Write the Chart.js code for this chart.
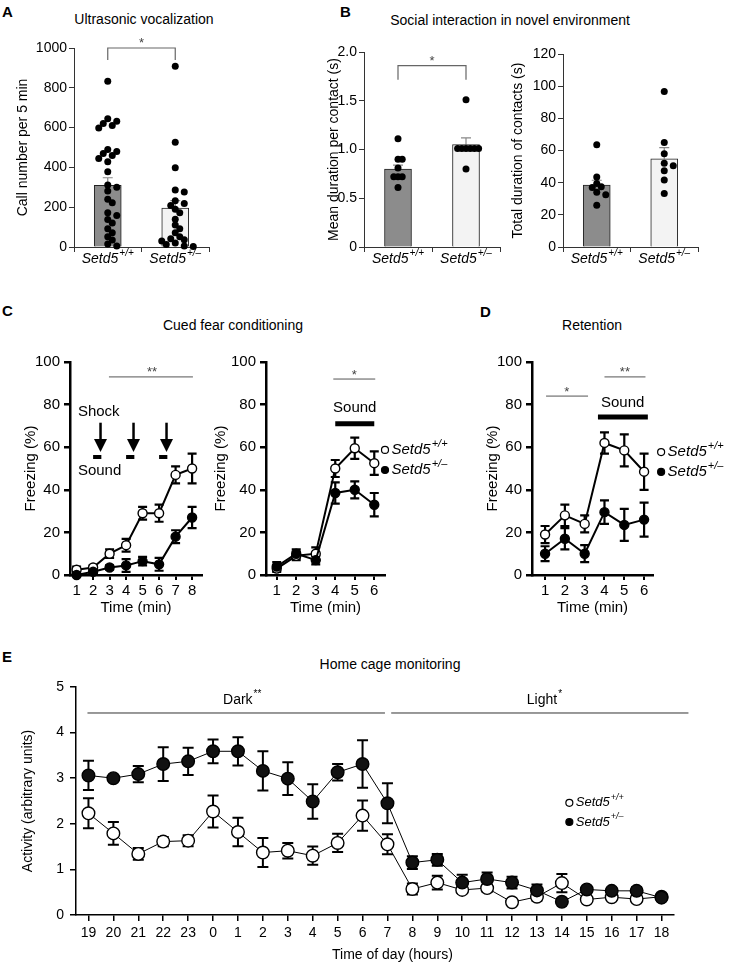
<!DOCTYPE html>
<html>
<head>
<meta charset="utf-8">
<title>Setd5 behaviour</title>
<script src="https://cdn.jsdelivr.net/npm/chart.js@4.4.1/dist/chart.umd.min.js"></script>
<style>
  body { margin: 0; background: #fff; font-family: "Liberation Sans", Arial, sans-serif; color: #000; }
  #fig { position: relative; width: 739px; height: 966px; overflow: hidden; background: #fff; }
  .panel { position: absolute; }
  .letter { position: absolute; font-weight: bold; font-size: 15px; line-height: 16px; }
  .title { position: absolute; font-size: 14px; line-height: 16px; white-space: nowrap; transform: translate(-50%, -50%); }
</style>
</head>
<body>
<div id="fig">
  <div class="letter" style="left:2px;top:4px">A</div>
  <div class="title" style="left:144px;top:19px">Ultrasonic vocalization</div>
  <div class="letter" style="left:340px;top:4px">B</div>
  <div class="title" style="left:510px;top:20px">Social interaction in novel environment</div>
  <div class="letter" style="left:2px;top:303px">C</div>
  <div class="title" style="left:233px;top:325px">Cued fear conditioning</div>
  <div class="letter" style="left:480px;top:304px">D</div>
  <div class="title" style="left:592px;top:325px">Retention</div>
  <div class="letter" style="left:2px;top:649px">E</div>
  <div class="title" style="left:390px;top:664px">Home cage monitoring</div>

  <div class="panel" style="left:0;top:28px;width:232px;height:252px"><canvas id="chartA"></canvas></div>
  <div class="panel" style="left:300px;top:28px;width:215px;height:252px"><canvas id="chartB1"></canvas></div>
  <div class="panel" style="left:500px;top:28px;width:220px;height:252px"><canvas id="chartB2"></canvas></div>
  <div class="panel" style="left:0;top:340px;width:215px;height:285px"><canvas id="chartC1"></canvas></div>
  <div class="panel" style="left:200px;top:340px;width:265px;height:285px"><canvas id="chartC2"></canvas></div>
  <div class="panel" style="left:460px;top:340px;width:279px;height:285px"><canvas id="chartD"></canvas></div>
  <div class="panel" style="left:0;top:640px;width:739px;height:326px"><canvas id="chartE"></canvas></div>
</div>

<script>
// ---- data ----
const genotypes = ['+/+', '+/–'];

// A: ultrasonic vocalization (calls per 5 min)
const usvMean = [310, 195];
const usvSem = [38, 38];
const usvWT = [833, 645, 632, 620, 610, 598, 490, 480, 470, 460, 445, 428, 378, 312, 300, 282, 240, 222, 172, 158, 138, 120, 92, 72, 52, 35, 15, 5];
const usvHet = [908, 527, 398, 286, 276, 232, 219, 208, 190, 172, 140, 110, 92, 72, 52, 42, 36, 30, 20, 13, 5, 3];

// B: social interaction
const contactMean = [0.80, 1.05];
const contactSem = [0.04, 0.07];
const contactWT = [1.11, 0.9, 0.9, 0.81, 0.72, 0.72, 0.72, 0.61];
const contactHet = [1.51, 1.01, 1.01, 1.01, 1.01, 1.01, 1.01, 0.8];
const totalMean = [38.5, 54.8];
const totalSem = [3, 7];
const totalWT = [63.5, 43.5, 39.5, 37.5, 37, 34, 32.5, 26];
const totalHet = [96.7, 65, 58, 52, 50.5, 47.4, 41.6, 33.3];

// C: cued fear conditioning, freezing (%)
const minutesTrain = [1, 2, 3, 4, 5, 6, 7, 8];
const trainWT = [2.5, 3.5, 10, 14, 29, 29, 47, 50];
const trainWTSem = [1.5, 1, 2, 3, 3, 4, 4, 7];
const trainHet = [0, 1.5, 3.5, 4.5, 6.5, 5, 18, 27];
const trainHetSem = [0.5, 1, 1, 3, 2, 3, 3, 5];

const minutesTest = [1, 2, 3, 4, 5, 6];
const testWT = [3, 9, 10, 50, 59.5, 52.5];
const testWTSem = [1.5, 2, 3, 4, 5, 5.5];
const testHet = [4, 10, 7, 38.5, 40, 33];
const testHetSem = [2, 2, 2, 5, 4, 5.5];

// D: retention
const retWT = [19, 28, 24, 62, 58.5, 48.5];
const retWTSem = [4, 5, 4, 5, 7.5, 8.5];
const retHet = [10, 17, 10, 29.5, 23.5, 26];
const retHetSem = [3.5, 5, 4, 5.5, 7.5, 8];

// E: home cage activity
const hours = ['19', '20', '21', '22', '23', '0', '1', '2', '3', '4', '5', '6', '7', '8', '9', '10', '11', '12', '13', '14', '15', '16', '17', '18'];
const actWT = [2.23, 1.79, 1.34, 1.61, 1.63, 2.27, 1.82, 1.37, 1.41, 1.30, 1.58, 2.18, 1.55, 0.57, 0.71, 0.55, 0.59, 0.28, 0.40, 0.70, 0.34, 0.39, 0.35, 0.40];
const actWTSem = [0.33, 0.25, 0.13, 0.1, 0.12, 0.35, 0.31, 0.32, 0.17, 0.2, 0.2, 0.33, 0.22, 0.12, 0.15, 0.06, 0.08, 0.03, 0.08, 0.2, 0.05, 0.05, 0.05, 0.06];
const actHet = [3.06, 3.0, 3.09, 3.31, 3.37, 3.59, 3.59, 3.16, 2.99, 2.49, 3.13, 3.31, 2.45, 1.15, 1.21, 0.71, 0.79, 0.71, 0.54, 0.29, 0.56, 0.53, 0.53, 0.38];
const actHetSem = [0.32, 0.05, 0.18, 0.37, 0.3, 0.26, 0.31, 0.43, 0.36, 0.38, 0.18, 0.52, 0.44, 0.14, 0.13, 0.17, 0.14, 0.13, 0.13, 0.04, 0.06, 0.06, 0.08, 0.06];

// ---- drawing helpers ----
const FONT = '"Liberation Sans", Arial, sans-serif';
Chart.defaults.font.family = FONT;
Chart.defaults.color = '#000';

// annotations per canvas id, in data coordinates
const extras = {};

function drawText(ctx, x, y, it) {
    const size = it.size || 14;
    const style = it.italic ? 'italic ' : '';
    const main = style + size + 'px ' + FONT;
    const supFont = style + Math.round(size * 0.72) + 'px ' + FONT;
    ctx.font = main;
    const w1 = ctx.measureText(it.text).width;
    let w2 = 0;
    if (it.sup) { ctx.font = supFont; w2 = ctx.measureText(it.sup).width + 1; }
    const left = it.align === 'left' ? x : x - (w1 + w2) / 2;
    ctx.fillStyle = it.color || '#000';
    ctx.textAlign = 'left';
    ctx.textBaseline = 'middle';
    ctx.font = main;
    ctx.fillText(it.text, left, y);
    if (it.sup) {
        ctx.font = supFont;
        ctx.fillText(it.sup, left + w1 + 1, y - size * 0.4);
    }
}

function yOf(v) { return typeof v === 'object' ? v.y : v; }

const figPlugin = {
    id: 'fig',
    beforeDatasetsDraw(chart) {
        const ctx = chart.ctx;
        chart.data.datasets.forEach((ds, i) => {
            if (!ds.errors) return;
            const meta = chart.getDatasetMeta(i);
            const ys = chart.scales[meta.yAxisID];
            ctx.save();
            ctx.strokeStyle = ds.errColor || '#000';
            ctx.lineWidth = ds.errWidth || 2;
            meta.data.forEach((el, j) => {
                const v = yOf(ds.data[j]), e = ds.errors[j];
                const top = ys.getPixelForValue(v + e);
                const bot = ys.getPixelForValue(ds.errUpOnly ? v : v - e);
                const w = ds.capWidth / 2;
                ctx.beginPath();
                ctx.moveTo(el.x, top); ctx.lineTo(el.x, bot);
                ctx.moveTo(el.x - w, top); ctx.lineTo(el.x + w, top);
                if (!ds.errUpOnly) { ctx.moveTo(el.x - w, bot); ctx.lineTo(el.x + w, bot); }
                ctx.stroke();
            });
            ctx.restore();
        });
    },
    afterDraw(chart) {
        const cfg = extras[chart.canvas.id];
        if (!cfg) return;
        const ctx = chart.ctx;
        const X = v => chart.scales.x.getPixelForValue(v);
        const Y = v => chart.scales.y.getPixelForValue(v);
        ctx.save();
        (cfg.items || []).forEach(it => {
            if (it.t === 'line') {
                ctx.strokeStyle = it.color || '#000';
                ctx.lineWidth = it.w || 1;
                ctx.beginPath();
                ctx.moveTo(X(it.x0), Y(it.y));
                ctx.lineTo(X(it.x1), Y(it.y));
                ctx.stroke();
            } else if (it.t === 'bracket') {
                const y = Y(it.y);
                ctx.strokeStyle = it.color || '#000';
                ctx.lineWidth = it.w || 1;
                ctx.beginPath();
                ctx.moveTo(X(it.x0), y + it.drop);
                ctx.lineTo(X(it.x0), y);
                ctx.lineTo(X(it.x1), y);
                ctx.lineTo(X(it.x1), y + it.drop);
                ctx.stroke();
            } else if (it.t === 'arrow') {
                const x = X(it.x), y0 = Y(it.y0), y1 = Y(it.y1);
                ctx.strokeStyle = '#000';
                ctx.fillStyle = '#000';
                ctx.lineWidth = 2.5;
                ctx.beginPath();
                ctx.moveTo(x, y0); ctx.lineTo(x, y1 - 10);
                ctx.stroke();
                ctx.beginPath();
                ctx.moveTo(x - 6.5, y1 - 13); ctx.lineTo(x + 6.5, y1 - 13); ctx.lineTo(x, y1);
                ctx.closePath();
                ctx.fill();
            } else if (it.t === 'text') {
                drawText(ctx, X(it.x) + (it.dx || 0), Y(it.y) + (it.dy || 0), it);
            } else if (it.t === 'geno') {
                const x = X(it.x), y = Y(it.y), r = it.r || 3.5;
                ctx.beginPath();
                ctx.arc(x, y, r, 0, Math.PI * 2);
                ctx.fillStyle = it.fill;
                ctx.fill();
                ctx.strokeStyle = '#000';
                ctx.lineWidth = 1.2;
                ctx.stroke();
                drawText(ctx, x + r + 3, y, { text: 'Setd5', sup: it.sup, italic: true, size: it.size || 15, align: 'left' });
            }
        });
        if (cfg.catLabels) {
            const y = chart.chartArea.bottom + cfg.catLabels.dy;
            genotypes.forEach((g, i) => {
                drawText(ctx, X(i), y, { text: 'Setd5', sup: g, italic: true, size: cfg.catLabels.size });
            });
        }
        ctx.restore();
    }
};
Chart.register(figPlugin);

// simple beeswarm offsets (x units) so dots do not sit on top of each other
function swarm(values, unitPx, catPx, step, minDist) {
    const placed = [];
    return values.map(v => {
        const y = v * unitPx;
        for (let k = 0; k < 60; k++) {
            const dx = Math.ceil(k / 2) * (k % 2 ? 1 : -1) * step;
            if (placed.every(p => Math.hypot(p.x - dx, p.y - y) >= minDist)) {
                placed.push({ x: dx, y: y });
                return dx / catPx;
            }
        }
        return 0;
    });
}

function dots(values, cat, unitPx, catPx, step, minDist) {
    const off = swarm(values, unitPx, catPx, step, minDist);
    return values.map((v, i) => ({ x: cat + off[i], y: v }));
}

function valueAxis(o) {
    return {
        type: 'linear', min: o.min, max: o.max,
        afterFit: s => { s.width = o.width; },
        border: { display: true, color: o.color || '#000', width: o.lw },
        grid: { drawOnChartArea: false, drawTicks: true, tickLength: o.tick, color: o.color || '#000', lineWidth: o.lw },
        ticks: { stepSize: o.step, font: { size: o.size }, color: '#000', padding: o.pad, callback: o.fmt },
        title: { display: true, text: o.title, font: { size: o.size }, color: '#000', padding: 0 }
    };
}

// genotype axis: linear from -0.5 to 1.5, tick marks between the two groups
function genoAxis(h) {
    return {
        type: 'linear', min: -0.5, max: 1.5, offset: false,
        afterFit: s => { s.height = h; },
        afterBuildTicks: s => { s.ticks = [-0.5, 0.5, 1.5].map(v => ({ value: v })); },
        border: { display: true, color: '#333', width: 1 },
        grid: { offset: false, drawOnChartArea: false, drawTicks: true, tickLength: 5, color: '#333', lineWidth: 1 },
        ticks: { callback: () => '' }
    };
}

function minuteAxis(min, max, ticksAt, h) {
    return {
        type: 'linear', min: min, max: max,
        afterFit: s => { s.height = h; },
        afterBuildTicks: s => { s.ticks = ticksAt.map(v => ({ value: v })); },
        border: { display: true, color: '#000', width: 2.5 },
        grid: { drawOnChartArea: false, drawTicks: true, tickLength: 5, color: '#000', lineWidth: 2 },
        ticks: { font: { size: 15 }, padding: 2, color: '#000', maxRotation: 0, autoSkip: false },
        title: { display: true, text: 'Time (min)', font: { size: 15 }, color: '#000', padding: 0 }
    };
}

function freezeAxis(width) {
    return valueAxis({ min: 0, max: 100, step: 20, width: width, lw: 2.5, tick: 6, size: 15, pad: 4, title: 'Freezing (%)' });
}

function baseOptions(padding, scales) {
    return {
        responsive: true, maintainAspectRatio: false, animation: false,
        layout: { padding: padding },
        plugins: { legend: { display: false }, tooltip: { enabled: false } },
        scales: scales
    };
}

function barChart(id, mean, sem, wt, het, swarmArgs, padding, yOpts) {
    const pts = dots(wt, 0, ...swarmArgs).concat(dots(het, 1, ...swarmArgs));
    return new Chart(document.getElementById(id), {
        type: 'scatter',
        data: {
            datasets: [
                { type: 'scatter', data: pts, pointRadius: 3.5, pointBackgroundColor: '#000', pointBorderWidth: 0, order: 0, clip: false },
                { type: 'bar', data: mean.map((v, i) => ({ x: i, y: v })), errors: sem, errUpOnly: true,
                  errColor: '#888', errWidth: 1.2, capWidth: 10, grouped: false,
                  backgroundColor: ['#8c8c8c', '#f3f3f3'], borderColor: '#222', borderWidth: 1, barThickness: 27, order: 1 }
            ]
        },
        options: baseOptions(padding, {
            x: genoAxis(30),
            y: valueAxis(yOpts)
        })
    });
}

function lineSet(values, errs, fill, order, r, capW, lw) {
    return {
        data: values, errors: errs, capWidth: capW, errWidth: lw, errColor: '#000',
        borderColor: '#000', borderWidth: lw === 2.2 ? 2 : 1, pointRadius: r,
        pointBackgroundColor: fill, pointBorderColor: '#000', pointBorderWidth: 1.4,
        order: order, clip: false, tension: 0
    };
}

// ---- A ----
extras.chartA = {
    catLabels: { dy: 12, size: 14 },
    items: [
        { t: 'bracket', x0: 0, x1: 1, y: 1000, drop: 12, color: '#666', w: 1.2 },
        { t: 'text', x: 0.5, y: 1000, dy: -5, text: '*', size: 13, color: '#444' }
    ]
};
barChart('chartA', usvMean, usvSem, usvWT, usvHet, [0.199, 67.5, 4.5, 5.5],
    { left: 15, right: 23, top: 20, bottom: 3 },
    { min: 0, max: 1000, step: 200, width: 59, lw: 1, tick: 5, size: 14, pad: 2, color: '#333', title: 'Call number per 5 min' });

// ---- B ----
extras.chartB1 = {
    catLabels: { dy: 12, size: 14 },
    items: [
        { t: 'bracket', x0: 0, x1: 1, y: 1.86, drop: 14, color: '#666', w: 1.2 },
        { t: 'text', x: 0.5, y: 1.86, dy: -4, text: '*', size: 13, color: '#444' }
    ]
};
barChart('chartB1', contactMean, contactSem, contactWT, contactHet, [97.5, 68, 4.2, 4.2],
    { left: 26, right: 15, top: 24, bottom: 3 },
    { min: 0, max: 2, step: 0.5, width: 38, lw: 1, tick: 5, size: 14, pad: 2, color: '#333',
      title: 'Mean duration per contact (s)', fmt: v => v === 0 ? '0' : v.toFixed(1) });

extras.chartB2 = { catLabels: { dy: 12, size: 14 }, items: [] };
barChart('chartB2', totalMean, totalSem, totalWT, totalHet, [1.61, 67.5, 4.5, 5.5],
    { left: 10, right: 22, top: 26, bottom: 3 },
    { min: 0, max: 120, step: 20, width: 53, lw: 1, tick: 5, size: 14, pad: 2, color: '#333', title: 'Total duration of contacts (s)' });

// ---- C ----
extras.chartC1 = {
    items: [
        { t: 'line', x0: 2.96, x1: 8.05, y: 93, w: 1, color: '#555' },
        { t: 'text', x: 5.57, y: 93, dy: -4, text: '**', size: 13, color: '#444' },
        { t: 'text', x: 1.08, y: 76.5, text: 'Shock', size: 15, align: 'left' },
        { t: 'arrow', x: 2.45, y0: 71.5, y1: 57.8 },
        { t: 'arrow', x: 4.45, y0: 71.5, y1: 57.8 },
        { t: 'arrow', x: 6.45, y0: 71.5, y1: 57.8 },
        { t: 'line', x0: 2.0, x1: 2.5, y: 55.4, w: 4 },
        { t: 'line', x0: 4.0, x1: 4.5, y: 55.4, w: 4 },
        { t: 'line', x0: 6.0, x1: 6.5, y: 55.4, w: 4 },
        { t: 'text', x: 1.08, y: 48.8, text: 'Sound', size: 15, align: 'left' }
    ]
};
new Chart(document.getElementById('chartC1'), {
    type: 'line',
    data: {
        labels: minutesTrain,
        datasets: [
            lineSet(trainHet, trainHetSem, '#000', 0, 4.5, 9, 2.2),
            lineSet(trainWT, trainWTSem, '#fff', 1, 4.5, 9, 2.2)
        ]
    },
    options: baseOptions({ left: 22, right: 13, top: 22, bottom: 8 }, {
        x: minuteAxis(0.6, 8.6, minutesTrain, 42),
        y: freezeAxis(48)
    })
});

extras.chartC2 = {
    items: [
        { t: 'line', x0: 3.9, x1: 6.05, y: 92, w: 1, color: '#555' },
        { t: 'text', x: 4.97, y: 92, dy: -4, text: '*', size: 13, color: '#444' },
        { t: 'line', x0: 4, x1: 6, y: 71, w: 5 },
        { t: 'text', x: 5, y: 78.4, text: 'Sound', size: 15 },
        { t: 'geno', x: 6.55, y: 58.7, sup: '+/+', fill: '#fff' },
        { t: 'geno', x: 6.55, y: 49.3, sup: '+/–', fill: '#000' }
    ]
};
new Chart(document.getElementById('chartC2'), {
    type: 'line',
    data: {
        labels: minutesTest,
        datasets: [
            lineSet(testHet, testHetSem, '#000', 0, 4.5, 9, 2.2),
            lineSet(testWT, testWTSem, '#fff', 1, 4.5, 9, 2.2)
        ]
    },
    options: baseOptions({ left: 12, right: 80, top: 22, bottom: 8 }, {
        x: minuteAxis(0.45, 6.55, minutesTest, 42),
        y: freezeAxis(54)
    })
});

// ---- D ----
extras.chartD = {
    items: [
        { t: 'line', x0: 1.05, x1: 3.17, y: 84, w: 1, color: '#555' },
        { t: 'text', x: 2.1, y: 84, dy: -4, text: '*', size: 13, color: '#444' },
        { t: 'line', x0: 4.0, x1: 6.07, y: 93, w: 1, color: '#555' },
        { t: 'text', x: 5.03, y: 93, dy: -4, text: '**', size: 13, color: '#444' },
        { t: 'line', x0: 3.67, x1: 6.19, y: 74.2, w: 5 },
        { t: 'text', x: 4.92, y: 80.8, text: 'Sound', size: 15 },
        { t: 'geno', x: 6.86, y: 57.7, sup: '+/+', fill: '#fff' },
        { t: 'geno', x: 6.86, y: 48.4, sup: '+/–', fill: '#000' }
    ]
};
new Chart(document.getElementById('chartD'), {
    type: 'line',
    data: {
        labels: minutesTest,
        datasets: [
            lineSet(retHet, retHetSem, '#000', 0, 4.5, 9, 2.2),
            lineSet(retWT, retWTSem, '#fff', 1, 4.5, 9, 2.2)
        ]
    },
    options: baseOptions({ left: 24, right: 86, top: 22, bottom: 8 }, {
        x: minuteAxis(0.34, 6.45, minutesTest, 42),
        y: freezeAxis(48)
    })
});

// ---- E ----
extras.chartE = {
    items: [
        { t: 'line', x0: -0.04, x1: 11.9, y: 4.43, w: 1, color: '#333' },
        { t: 'text', x: 6.17, y: 4.71, text: 'Dark', sup: '**', size: 14 },
        { t: 'line', x0: 12.15, x1: 24.08, y: 4.43, w: 1, color: '#333' },
        { t: 'text', x: 18.3, y: 4.71, text: 'Light', sup: '*', size: 14 },
        { t: 'geno', x: 19.3, y: 2.46, sup: '+/+', fill: '#fff', size: 13 },
        { t: 'geno', x: 19.3, y: 2.04, sup: '+/–', fill: '#000', size: 13 },
        { t: 'text', x: 12.2, y: -0.88, text: 'Time of day (hours)', size: 14 }
    ]
};
new Chart(document.getElementById('chartE'), {
    type: 'line',
    data: {
        labels: hours,
        datasets: [
            lineSet(actHet, actHetSem, '#111', 0, 6.3, 11, 2),
            lineSet(actWT, actWTSem, '#fff', 1, 6.3, 11, 2)
        ]
    },
    options: baseOptions({ left: 20, right: 65, top: 47, bottom: 3 }, {
        x: {
            type: 'category', offset: true,
            afterFit: s => { s.height = 48; },
            border: { display: true, color: '#000', width: 1.5 },
            grid: { offset: false, drawOnChartArea: false, drawTicks: true, tickLength: 6, color: '#000', lineWidth: 1.5 },
            ticks: { font: { size: 14 }, padding: 4, color: '#000', maxRotation: 0, autoSkip: false }
        },
        y: valueAxis({ min: 0, max: 5, step: 1, width: 56, lw: 1.5, tick: 6, size: 14, pad: 6, title: 'Activity (arbitrary units)' })
    })
});
</script>
</body>
</html>
